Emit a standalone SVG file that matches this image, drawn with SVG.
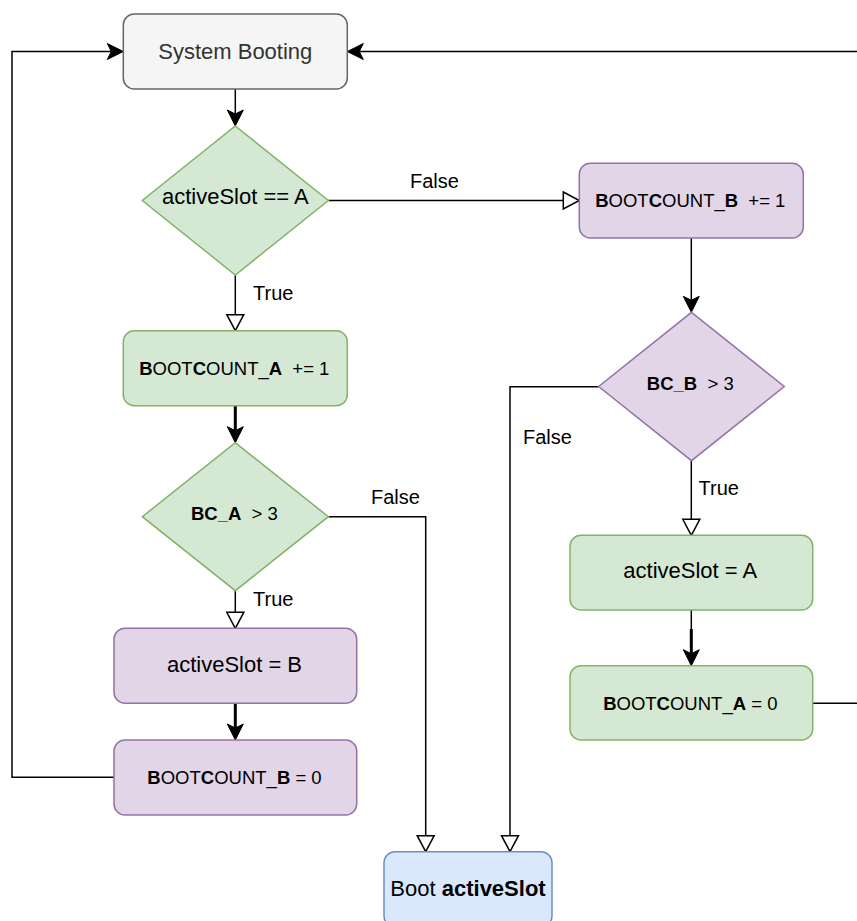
<svg xmlns="http://www.w3.org/2000/svg" width="857" height="921" viewBox="0 0 857 921">
<style>
.n{stroke-width:1.5}
.g{fill:#d5e8d4;stroke:#82b366}
.p{fill:#e1d5e7;stroke:#9673a6}
.b{fill:#dae8fc;stroke:#6c8ebf}
.s{fill:#f5f5f5;stroke:#666666}
text{font-family:"Liberation Sans",Arial,sans-serif;fill:#000;text-anchor:middle}
.big{font-size:22px}
.sm{font-size:18.5px}
.lbl{font-size:20px;text-anchor:start}
.bold{font-weight:bold}
.e{fill:none;stroke:#000;stroke-width:1.5}
.thick{stroke-width:3}
</style>
<defs>
<marker id="classic" markerUnits="userSpaceOnUse" markerWidth="20" markerHeight="20" refX="4" refY="8" orient="auto" overflow="visible">
<path d="M0,0 L16,8 L0,16 L4,8 Z" fill="#000" stroke="#000" stroke-width="1" stroke-linejoin="miter"/>
</marker>
<marker id="block" markerUnits="userSpaceOnUse" markerWidth="20" markerHeight="20" refX="0" refY="8.5" orient="auto" overflow="visible">
<path d="M0,0 L16,8.5 L0,17 Z" fill="#fff" stroke="#000" stroke-width="1.5"/>
</marker>
</defs>
<rect width="857" height="921" fill="#fff"/>
<g id="connectors">
<path class="e" d="M235.3,89 L235.3,114" marker-end="url(#classic)"/>
<path class="e" d="M328.3,200.5 L563.3,200.5" marker-end="url(#block)"/>
<path class="e" d="M235.3,275 L235.3,314.7" marker-end="url(#block)"/>
<path class="e thick" d="M235.3,405.7 L235.3,430.7" marker-end="url(#classic)"/>
<path class="e" d="M328.3,516.7 L425.7,516.7 L425.7,835.7" marker-end="url(#block)"/>
<path class="e" d="M235.3,590.7 L235.3,612.3" marker-end="url(#block)"/>
<path class="e thick" d="M235.3,703.3 L235.3,728" marker-end="url(#classic)"/>
<path class="e" d="M114,777.3 L12,777.3 L12,51.5 L111.3,51.5" marker-end="url(#classic)"/>
<path class="e" d="M691.3,238 L691.3,300.3" marker-end="url(#classic)"/>
<path class="e" d="M691.3,460.7 L691.3,519.3" marker-end="url(#block)"/>
<path class="e" d="M598.7,386.7 L510,386.7 L510,835.7" marker-end="url(#block)"/>
<path class="e" d="M691.3,610 L691.3,629"/>
<path class="e thick" d="M691.3,629 L691.3,653.7" marker-end="url(#classic)"/>
<path class="e" d="M812.7,703.3 L870,703.3 L870,51.5 L359.3,51.5" marker-end="url(#classic)"/>
<text class="lbl" x="410" y="188">False</text>
<text class="lbl" x="253" y="300">True</text>
<text class="lbl" x="371" y="504">False</text>
<text class="lbl" x="253" y="606">True</text>
<text class="lbl" x="523" y="443.5">False</text>
<text class="lbl" x="698.5" y="495">True</text>
</g>
<g id="system-booting">
<rect class="n s" x="123.3" y="14" width="224" height="75" rx="11"/>
<text class="big" x="235.3" y="59" style="fill:#333333">System Booting</text>
</g>
<g id="check-active-a">
<polygon class="n g" points="235.3,126 328.3,200.5 235.3,275 142.3,200.5"/>
<text class="big" x="235.3" y="203.5">activeSlot == A</text>
</g>
<g id="inc-bc-a">
<rect class="n g" x="123.3" y="330.7" width="224" height="75" rx="11"/>
<text class="sm" x="234.3" y="375"><tspan class="bold">B</tspan>OOT<tspan class="bold">C</tspan>OUNT_<tspan class="bold">A</tspan>&#160; += 1</text>
</g>
<g id="check-bc-a">
<polygon class="n g" points="235.3,442.7 328.3,516.7 235.3,590.7 142.3,516.7"/>
<text class="sm" x="234.4" y="519.5"><tspan class="bold">BC_A</tspan>&#160; &gt; 3</text>
</g>
<g id="set-slot-b">
<rect class="n p" x="114" y="628.3" width="242.7" height="75" rx="11"/>
<text class="big" x="234.5" y="671.7">activeSlot = B</text>
</g>
<g id="reset-bc-b">
<rect class="n p" x="114" y="740" width="242.7" height="75" rx="11"/>
<text class="sm" x="234.5" y="784"><tspan class="bold">B</tspan>OOT<tspan class="bold">C</tspan>OUNT_<tspan class="bold">B</tspan> = 0</text>
</g>
<g id="inc-bc-b">
<rect class="n p" x="579.3" y="163.3" width="224" height="74.7" rx="11"/>
<text class="sm" x="690.3" y="207.3"><tspan class="bold">B</tspan>OOT<tspan class="bold">C</tspan>OUNT_<tspan class="bold">B</tspan>&#160; += 1</text>
</g>
<g id="check-bc-b">
<polygon class="n p" points="691.5,312.3 784.3,386.5 691.5,460.7 598.7,386.5"/>
<text class="sm" x="690.3" y="390"><tspan class="bold">BC_B</tspan>&#160; &gt; 3</text>
</g>
<g id="set-slot-a">
<rect class="n g" x="570" y="535.3" width="242.7" height="74.7" rx="11"/>
<text class="big" x="690.3" y="578.3">activeSlot = A</text>
</g>
<g id="reset-bc-a">
<rect class="n g" x="570" y="665.7" width="242.7" height="74.3" rx="11"/>
<text class="sm" x="690.3" y="710"><tspan class="bold">B</tspan>OOT<tspan class="bold">C</tspan>OUNT_<tspan class="bold">A</tspan> = 0</text>
</g>
<g id="boot-active-slot">
<rect class="n b" x="384" y="851.7" width="168" height="75" rx="11"/>
<text class="big" x="468" y="895.7">Boot <tspan class="bold">activeSlot</tspan></text>
</g>
</svg>
